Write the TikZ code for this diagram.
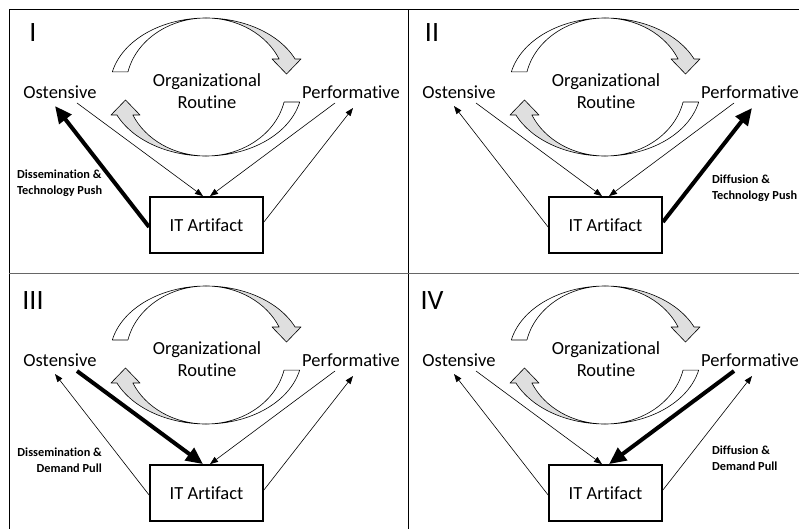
\documentclass[tikz,border=0pt]{standalone}
\usepackage{fontspec}
\setmainfont{Carlito}[Ligatures=NoCommon]
\usetikzlibrary{arrows.meta,calc}
\tikzstyle{word}=[inner sep=1pt,align=center,font=\fontsize{18.5}{22}\selectfont]
\tikzstyle{numeral}=[inner sep=0pt,font=\fontsize{28}{30}\selectfont]
\tikzstyle{note}=[inner sep=0pt,font=\fontsize{12.3}{16}\selectfont\bfseries]
\tikzstyle{artifact}=[rectangle,draw,line width=1.8pt,minimum width=113pt,minimum height=56pt,inner sep=0pt,font=\fontsize{18.5}{22}\selectfont]
\tikzstyle{thinarrow}=[line width=0.6pt,-{Triangle[length=8pt,width=6pt]}]
\tikzstyle{thickarrow}=[line width=4pt,-{Triangle[length=17pt,width=15pt]}]
\tikzstyle{band}=[draw,line width=0.6pt,line join=round]
\tikzstyle{frameline}=[line width=1pt]

% half of the routine loop around the origin: white front, grey back and head
\newcommand{\halfloop}{%
\draw[band,fill=white] (192.6:96 and 69) arc[start angle=192.6,end angle=270,x radius=96,y radius=69]
  arc[start angle=270,end angle=192.6,x radius=80,y radius=69] -- cycle;
\draw[band,fill=gray!25] (0,-69) arc[start angle=270,end angle=336.1,x radius=97.5,y radius=69]
  -- (95,-28) -- (80.5,-13) -- (66,-28) -- (336.1:80 and 69)
  arc[start angle=336.1,end angle=270,x radius=80,y radius=69] -- cycle;
}

\begin{document}
\begin{tikzpicture}[x=1pt,y=-1pt]
\useasboundingbox (0,0) rectangle (799,529);
\clip (0,0) rectangle (799,529);

% frame
\draw[frameline] (9,529) -- (9,10) -- (799,10);
\draw[frameline] (408,10) -- (408,529);
\draw[frameline,black!60] (9,273) -- (799,273);

\foreach \dx/\dy/\nr/\id/\sa/\sb/\sc/\sd in {0/0/I/a/thinarrow/thinarrow/thinarrow/thickarrow,
  399/0/II/b/thinarrow/thinarrow/thickarrow/thinarrow,
  0/268/III/c/thickarrow/thinarrow/thinarrow/thinarrow,
  399/268/IV/d/thinarrow/thickarrow/thinarrow/thinarrow}{
\begin{scope}[shift={(\dx,\dy)}]
\begin{scope}[shift={(206,87)}]
\halfloop
\end{scope}
\begin{scope}[shift={(206,87)},rotate=180]
\halfloop
\end{scope}
\node[numeral] (nr\id) at (33,33) {\nr};
\node[word] (ost\id) at (60,92) {Ostensive};
\node[word] (org\id) at (207,91) {Organizational\\Routine};
\node[word] (perf\id) at (351,92) {Performative};
\node[artifact] (it\id) at (206.5,225) {IT Artifact};
\end{scope}
\draw[\sa] ($(ost\id)+(17,11)$) -- ([xshift=-3.5pt]it\id.north);
\draw[\sb] ($(perf\id)+(-16,11)$) -- ([xshift=3.5pt]it\id.north);
\draw[\sc] ([yshift=3pt]it\id.east) -- ($(perf\id)+(2,16)$);
\draw[\sd] ([yshift=-2pt]it\id.west) -- ($(ost\id)+(-5,14)$);
}

\node[note,align=left,anchor=west] (laba) at (17,183) {Dissemination \&\\Technology Push};
\node[note,align=left,anchor=west] (labb) at (712,188) {Diffusion \&\\Technology Push};
\node[note,align=right,anchor=east] (labc) at (102,460) {Dissemination \&\\Demand Pull};
\node[note,align=left,anchor=west] (labd) at (712,458) {Diffusion \&\\Demand Pull};
\end{tikzpicture}
\end{document}
